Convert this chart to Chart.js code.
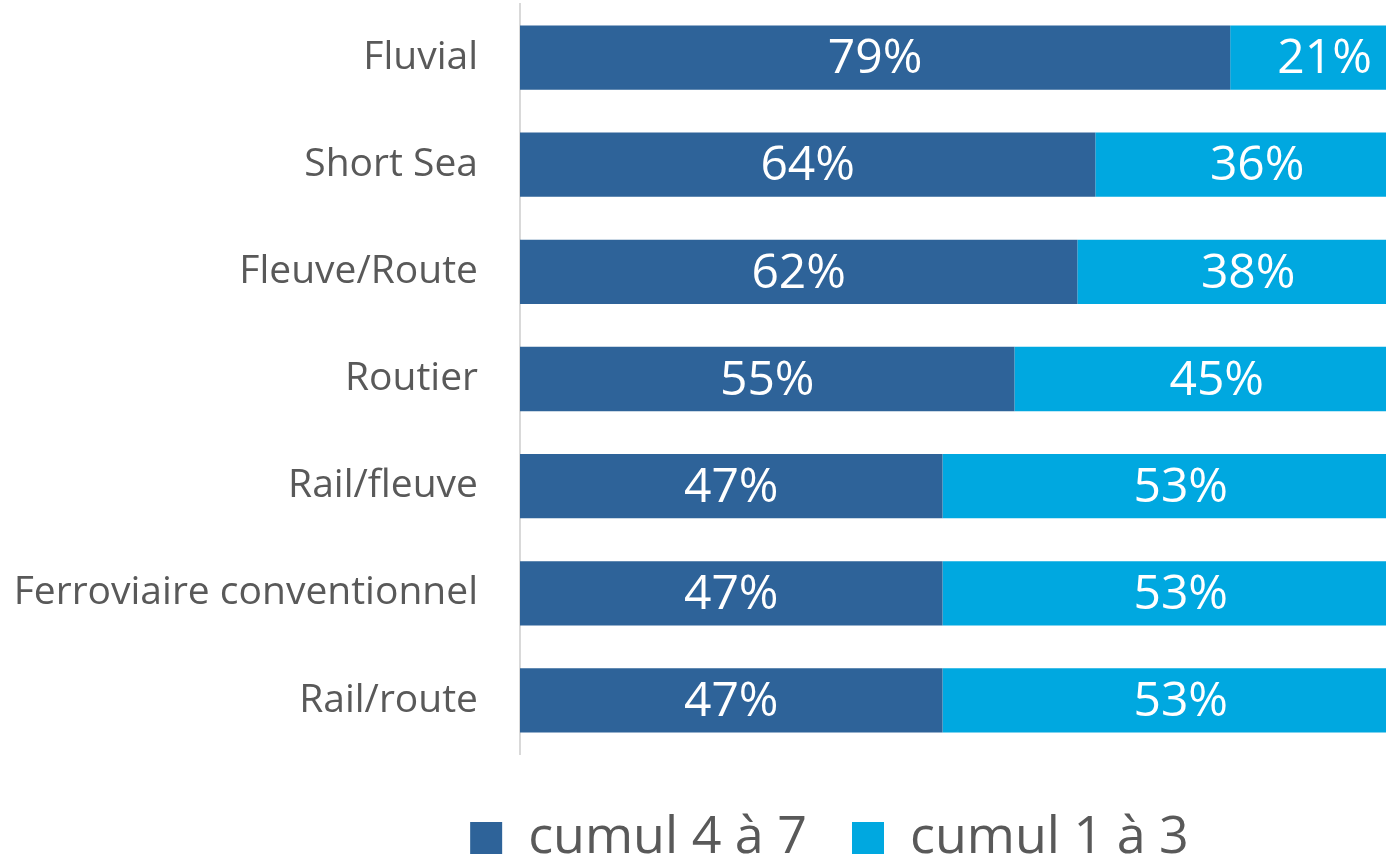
<!DOCTYPE html>
<html>
<head>
<meta charset="utf-8">
<script src="https://cdn.jsdelivr.net/npm/chart.js@4.4.1/dist/chart.umd.min.js"></script>
<style>
  html, body { margin: 0; padding: 0; background: #fff; overflow: hidden; }
  .wrap { width: 1386px; height: 855px; overflow: hidden; }
  .box { width: 1642px; height: 855px; }
</style>
</head>
<body>
<div class="wrap"><div class="box"><canvas id="chart"></canvas></div></div>
<script>
const modes = ['Fluvial', 'Short Sea', 'Fleuve/Route', 'Routier', 'Rail/fleuve', 'Ferroviaire conventionnel', 'Rail/route'];
const cumul47 = [79, 64, 62, 55, 47, 47, 47];
const cumul13 = [21, 36, 38, 45, 53, 53, 53];
const seriesNames = ['cumul 4 à 7', 'cumul 1 à 3'];
const colors = ['#2E6399', '#00A8E0'];

const font = "'Open Sans', sans-serif";

// percentage labels drawn in the middle of each segment
const valueLabels = {
  id: 'valueLabels',
  afterDatasetsDraw(chart) {
    const ctx = chart.ctx;
    ctx.save();
    ctx.fillStyle = '#fff';
    ctx.font = '48px ' + font;
    ctx.textAlign = 'center';
    ctx.textBaseline = 'middle';
    chart.data.datasets.forEach((ds, i) => {
      chart.getDatasetMeta(i).data.forEach((bar, j) => {
        const x = (bar.x + bar.base) / 2;
        ctx.fillText(ds.data[j] + '%', x, bar.y + 2);
      });
    });
    ctx.restore();
  }
};

// legend sits under the bars, not under the whole canvas
const legendShift = {
  id: 'legendShift',
  afterLayout(chart) {
    chart.legend.left += 120;
    chart.legend.right += 120;
  }
};

new Chart(document.getElementById('chart'), {
  type: 'bar',
  data: {
    labels: modes,
    datasets: [
      { label: seriesNames[0], data: cumul47, backgroundColor: colors[0] },
      { label: seriesNames[1], data: cumul13, backgroundColor: colors[1] }
    ]
  },
  options: {
    indexAxis: 'y',
    responsive: true,
    maintainAspectRatio: false,
    animation: false,
    categoryPercentage: 1,
    barPercentage: 0.6,
    layout: { padding: { top: 4, right: 223, bottom: 0, left: 0 } },
    scales: {
      x: {
        stacked: true, min: 0, max: 100,
        // empty axis, only keeps space above the legend
        afterFit(scale) { scale.height = 13; },
        grid: { display: false, drawTicks: false },
        border: { display: false },
        ticks: { display: false }
      },
      y: {
        stacked: true,
        afterFit(scale) {
          scale.width = 520;
          scale.paddingTop = 0;
          scale.paddingBottom = 0;
        },
        grid: { display: false, drawTicks: false },
        border: { display: true, color: '#d9d9d9', width: 2 },
        ticks: {
          color: '#595959',
          font: { family: font, size: 39 },
          padding: 42
        }
      }
    },
    plugins: {
      legend: {
        position: 'bottom',
        maxHeight: 88,
        labels: {
          color: '#595959',
          font: { family: font, size: 52 },
          boxWidth: 32,
          boxHeight: 32,
          padding: 45
        }
      },
      tooltip: { enabled: false }
    }
  },
  plugins: [valueLabels, legendShift]
});
</script>
</body>
</html>
